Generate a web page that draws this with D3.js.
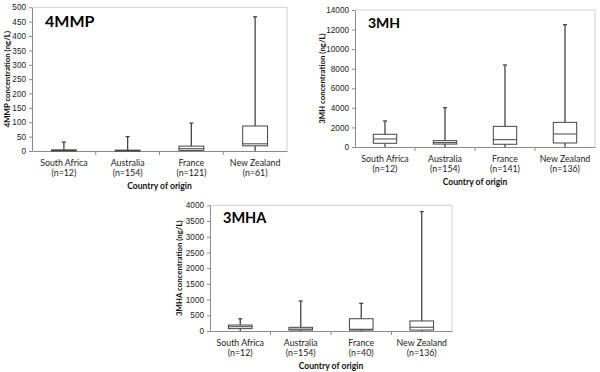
<!DOCTYPE html>
<html>
<head>
<meta charset="utf-8">
<script src="https://cdn.jsdelivr.net/npm/d3@7/dist/d3.min.js"></script>
<style>
    body { margin: 0; background: #fff; }
    svg { display: block; font-family: Lato, "Open Sans", sans-serif; }
    .tick text { fill: #222; }
</style>
</head>
<body>
<svg class="chart" width="600" height="372"></svg>
<script>
'use strict';

// shared categories
var COUNTRIES = ["South Africa", "Australia", "France", "New Zealand"];

// 4MMP (ng/L)
var MMP_N = [12, 154, 121, 61];
var MMP_MIN = [0, 0, 0, 0];
var MMP_Q1 = [0, 0, 2, 18];
var MMP_MEDIAN = [2, 1, 8, 25];
var MMP_Q3 = [4, 3, 17, 87];
var MMP_MAX = [31, 50, 97, 467];
var MMP_TICKS = [0, 50, 100, 150, 200, 250, 300, 350, 400, 450, 500];

// 3MH (ng/L)
var MH_N = [12, 154, 141, 136];
var MH_MIN = [0, 0, 0, 0];
var MH_Q1 = [380, 300, 280, 410];
var MH_MEDIAN = [820, 450, 750, 1330];
var MH_Q3 = [1300, 650, 2110, 2520];
var MH_MAX = [2660, 4020, 8380, 12500];
var MH_TICKS = [0, 2000, 4000, 6000, 8000, 10000, 12000, 14000];

// 3MHA (ng/L)
var MHA_N = [12, 154, 40, 136];
var MHA_MIN = [0, 0, 0, 0];
var MHA_Q1 = [75, 30, 30, 30];
var MHA_MEDIAN = [137, 60, 55, 120];
var MHA_Q3 = [190, 117, 390, 320];
var MHA_MAX = [390, 955, 880, 3800];
var MHA_TICKS = [0, 500, 1000, 1500, 2000, 2500, 3000, 3500, 4000];

var svg = d3.select('.chart');

drawPanel({
    title: "4MMP", yLabel: "4MMP concentration (ng/L)",
    n: MMP_N, min: MMP_MIN, q1: MMP_Q1, median: MMP_MEDIAN, q3: MMP_Q3, max: MMP_MAX,
    ticks: MMP_TICKS,
    left: 32, right: 287, top: 7.3, bottom: 151, labelX: 7, titleSize: 16
});

drawPanel({
    title: "3MH", yLabel: "3MH concentration (ng/L)",
    n: MH_N, min: MH_MIN, q1: MH_Q1, median: MH_MEDIAN, q3: MH_Q3, max: MH_MAX,
    ticks: MH_TICKS,
    left: 355, right: 595, top: 10, bottom: 147, labelX: 322, titleSize: 14
});

drawPanel({
    title: "3MHA", yLabel: "3MHA concentration (ng/L)",
    n: MHA_N, min: MHA_MIN, q1: MHA_Q1, median: MHA_MEDIAN, q3: MHA_Q3, max: MHA_MAX,
    ticks: MHA_TICKS,
    left: 210, right: 452, top: 205.3, bottom: 331, labelX: 179, titleSize: 14.5
});

/**
 * Draw one box plot panel
 * @param {Object} p panel settings and data
 */
function drawPanel(p) {
    var rows = COUNTRIES.map(function (c, i) {
        return { name: c, n: p.n[i], min: p.min[i], q1: p.q1[i], median: p.median[i], q3: p.q3[i], max: p.max[i] };
    });

    var x = d3.scaleBand()
        .domain(COUNTRIES)
        .range([p.left, p.right]);

    var y = d3.scaleLinear()
        .domain([p.ticks[0], p.ticks[p.ticks.length - 1]])
        .range([p.bottom, p.top]);

    var g = svg.append("g");

    // plot frame (top and right)
    g.append("path")
        .attr("d", "M" + p.left + "," + p.top + "H" + p.right + "V" + p.bottom)
        .attr("fill", "none")
        .attr("stroke", "#cfcfcf")
        .attr("stroke-width", 1);

    // y axis
    var yAxis = g.append("g")
        .attr("transform", "translate(" + p.left + ",0)")
        .call(d3.axisLeft(y).tickValues(p.ticks).tickFormat(d3.format("d"))
            .tickSize(3).tickPadding(3).tickSizeOuter(0));
    yAxis.selectAll("path, line").attr("stroke", "#8a8a8a");
    yAxis.selectAll("text").attr("font-size", 8.2);

    // x axis with ticks at band boundaries
    var xAxis = g.append("g")
        .attr("transform", "translate(0," + p.bottom + ")")
        .call(d3.axisBottom(x).tickSize(0).tickSizeOuter(0).tickFormat(""));
    xAxis.select("path").attr("stroke", "#8a8a8a");
    xAxis.selectAll(".sep")
        .data(COUNTRIES.slice(1))
        .enter()
        .append("line")
        .attr("class", "sep")
        .attr("x1", function (d) { return x(d); })
        .attr("x2", function (d) { return x(d); })
        .attr("y1", 0)
        .attr("y2", 4)
        .attr("stroke", "#8a8a8a");

    // category labels
    var labels = g.selectAll(".cat")
        .data(rows)
        .enter()
        .append("text")
        .attr("class", "cat")
        .attr("text-anchor", "middle")
        .attr("font-size", 8.8)
        .attr("fill", "#222");
    labels.append("tspan")
        .attr("x", function (d) { return x(d.name) + x.bandwidth() / 2; })
        .attr("y", p.bottom + 14.5)
        .text(function (d) { return d.name; });
    labels.append("tspan")
        .attr("x", function (d) { return x(d.name) + x.bandwidth() / 2; })
        .attr("y", p.bottom + 25)
        .text(function (d) { return "(n=" + d.n + ")"; });

    // x title
    g.append("text")
        .attr("x", (p.left + p.right) / 2)
        .attr("y", p.bottom + 37.5)
        .attr("text-anchor", "middle")
        .attr("font-size", 8.6)
        .attr("font-weight", "bold")
        .attr("fill", "#111")
        .text("Country of origin");

    // y title
    g.append("text")
        .attr("transform", "translate(" + p.labelX + "," + ((p.top + p.bottom) / 2) + ") rotate(-90)")
        .attr("dy", "0.35em")
        .attr("text-anchor", "middle")
        .attr("font-size", 7.8)
        .attr("font-weight", "bold")
        .attr("fill", "#111")
        .text(p.yLabel);

    // panel title
    g.append("text")
        .attr("x", p.left + 13)
        .attr("y", p.top + p.titleSize * 1.25)
        .attr("font-size", p.titleSize)
        .attr("font-weight", "bold")
        .attr("fill", "#000")
        .text(p.title);

    // boxes
    var boxW = x.bandwidth() * 0.39;
    var box = g.selectAll(".box")
        .data(rows)
        .enter()
        .append("g")
        .attr("class", "box")
        .attr("transform", function (d) { return "translate(" + (x(d.name) + x.bandwidth() / 2) + ",0)"; });

    box.append("line")
        .attr("x1", 0).attr("x2", 0)
        .attr("y1", function (d) { return y(d.q3); })
        .attr("y2", function (d) { return y(d.max); })
        .attr("stroke", "#444")
        .attr("stroke-width", 1.3);

    box.append("line")
        .attr("x1", -2).attr("x2", 2)
        .attr("y1", function (d) { return y(d.max); })
        .attr("y2", function (d) { return y(d.max); })
        .attr("stroke", "#444")
        .attr("stroke-width", 1.3);

    box.append("line")
        .attr("x1", 0).attr("x2", 0)
        .attr("y1", function (d) { return y(d.q1); })
        .attr("y2", function (d) { return y(d.min); })
        .attr("stroke", "#444")
        .attr("stroke-width", 1.3);

    box.append("rect")
        .attr("x", -boxW / 2)
        .attr("width", boxW)
        .attr("y", function (d) { return y(d.q3); })
        .attr("height", function (d) { return Math.max(0, y(d.q1) - y(d.q3)); })
        .attr("fill", "#fff")
        .attr("stroke", "#444")
        .attr("stroke-width", 1);

    box.append("line")
        .attr("x1", -boxW / 2).attr("x2", boxW / 2)
        .attr("y1", function (d) { return y(d.median); })
        .attr("y2", function (d) { return y(d.median); })
        .attr("stroke", "#444")
        .attr("stroke-width", 1);
}
</script>
</body>
</html>
